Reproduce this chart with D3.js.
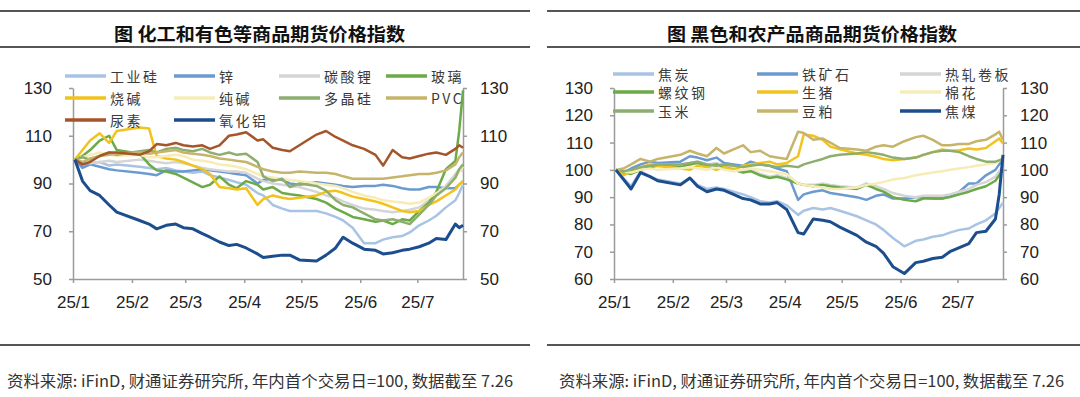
<!DOCTYPE html>
<html><head><meta charset="utf-8"><title>商品期货价格指数</title>
<script src="https://cdn.jsdelivr.net/npm/d3@7/dist/d3.min.js"></script>
<style>html,body{margin:0;padding:0;background:#fff}svg{display:block}</style>
</head><body>
<svg id="chart" width="1080" height="397"></svg>
<script>
// ================= DATA =================
const dates = ["2025-01-02","2025-01-06","2025-01-10","2025-01-15","2025-01-20","2025-01-24",
"2025-02-05","2025-02-10","2025-02-14","2025-02-19","2025-02-24","2025-02-28",
"2025-03-05","2025-03-10","2025-03-14","2025-03-19","2025-03-24","2025-03-28",
"2025-04-02","2025-04-08","2025-04-11","2025-04-16","2025-04-21","2025-04-25","2025-04-30",
"2025-05-09","2025-05-14","2025-05-19","2025-05-23","2025-05-28",
"2025-06-03","2025-06-09","2025-06-13","2025-06-18","2025-06-23","2025-06-27",
"2025-07-02","2025-07-07","2025-07-11","2025-07-16","2025-07-21","2025-07-23","2025-07-25"];

// left chart: chemicals & non-ferrous
const industrialSilicon = [100,97.5,98.5,99,97.5,98, 97,96.5,96,96.5,95.5,95, 94.5,95,93.5,92.5,91.5,90.5, 89.5,86,85,81,79.5,78.5,78.5, 78.5,77.5,76,74.5,71.5, 65,65,66.5,67.5,68,69.5, 72.5,74.5,76.5,80,83,86,89.5];
const zinc = [100,96.5,98,97,96,95.5, 94.5,94,93.5,95.5,95,95, 95.5,96,95.5,95,94.5,94, 93.5,90,91.5,92,91.5,90,89.5, 90.5,90,89.5,89,88.5, 89,89,89.5,89,88,87.5, 87.5,88.5,88.5,88,88,89.5,91];
const lithiumCarbonate = [100,99,98.5,99,99.5,99, 100,99.5,99,98.5,99,98.5, 97.5,96.5,96,95.5,95,95, 94.5,92,91,90,89.5,89,88.5, 86.5,85,84,82.5,81, 79.5,79,78.5,78,78.5,79, 80,83,86,89,94,96,95];
const glass = [100,101.5,104,108,110,104, 102.5,98,95.5,95,94,92.5, 90.5,88.5,89.5,93,89.5,88, 91,89.5,87.5,88.5,86,85.5,85, 83.5,82,79.5,78,76, 75,74,74.5,73,75,74.5, 78.5,82,86.5,96,99.5,112,129];
const causticSoda = [100,104,108,111,107,112, 113.5,113,101.5,100.5,100,99, 97.5,96,94,88.5,88,87.5, 88,81,83.5,85,84,83.5,84, 85,86.5,87,86,84.5, 83.5,82.5,81.5,80,78.5,78, 78.5,81,82.5,85,87.5,89.5,91];
const sodaAsh = [100,101,102,103,102,101.5, 102,101,101,101.5,102,101.5, 100,99.5,99,98,97.5,97, 96,94,93,92.5,92,91.5,91, 90,89.5,89,88,86.5, 85,84,83,82.5,82,81.5, 82,84,86,88,92,95,97];
const polysilicon = [100,101,100,101.5,103,102, 103.5,104,103,104.5,105,104, 103.5,104.5,103,102,103,102, 102.5,99,93,91,92,88.5,90, 89,87,83,81,80, 77.5,75,74.5,75,74,73, 77,81,85,88,92.5,96,98];
const pvc = [100,99,100.5,101.5,102,102.5, 103,102.5,103,103.5,104,103, 102.5,102,101.5,100.5,100,99.5, 99,97,96,95,94.5,94.5,95, 94.5,94.5,94,93,92, 92,92,92,92.5,93,93.5, 94,94,94.5,95.5,98,101,103];
const urea = [100,98,99,101.5,103,103, 102,103.5,106.5,106,107,106, 105.5,106,104.5,106,110,110.5, 111.5,108,108.5,105,104,103.5,106, 110.5,112,109.5,108,106, 104.5,102,97.5,104,101,100.5, 101.5,102.5,103,102,104.5,106,105];
const alumina = [100,91,87,85,81,78, 74.5,73,71,72.5,73,71.5, 71,69,67.5,65.5,64,64.5, 63,60.5,59,59.5,60,60,58, 57.5,60,63,67.5,65, 62.5,62,60.5,61,62,62.5, 63.5,65,67,66.5,73,71.5,72.5];

// right chart: ferrous & agricultural
const coke = [100,97,94,99.5,97.5,96.5, 95,97,94.5,93,93.5,93, 92,91,90,88.5,88,88.5, 87,83.5,85,86,85.5,86,85, 83,81.5,80,78,75, 72,74,74.5,75.5,76,77, 78,78.5,80,81.5,84,86,88];
const ironOre = [100,99,100.5,102,103,102.5, 103,105,104.5,103.5,104.5,102.5, 102,101.5,103,102,101.5,100.5, 99.5,89,91,92,92.5,91.5,91, 90,89,90.5,91,89.5, 89.5,90,90,89.5,89.5,90.5, 92,95,95,98,100,102,103.5];
const hotRolledCoil = [100,99.5,99,100.5,101.5,102, 101.5,102.5,103,102,102.5,101.5, 100.5,99.5,100,98.5,97.5,98, 97,95,94.5,94.5,95,94.5,94, 93.5,95,94,93,91.5, 90.5,90,90.5,90.5,90.5,91, 92,93,94.5,95.5,97.5,99.5,101];
const rebar = [100,99,98.5,100,101,101.5, 101,102,102.5,101.5,102,101, 100,99,99.5,98,97,97.5, 96.5,95,94.5,94,94.5,94,93.5, 93,94.5,93,92,90, 89,88.5,89.5,89.5,89.5,90, 91,92,93,94,96,98,100];
const liveHog = [100,98,99.5,101,102,101.5, 100.5,100,101.5,101,100,101, 100,101.5,102,102.5,103,102, 102.5,105,113,112.5,111,108.5,107.5, 106,105.5,104.8,104,103.5, 104,104.5,105.5,106.5,107.5,107, 107.2,107.8,107.5,108,110.5,111.5,109.7];
const cotton = [100,99.5,99,100,100.5,100, 100.5,101,100.5,100,101,100, 99.5,100,100.5,100,99.5,99, 98.5,95,94.5,94,93.5,93,93, 93.5,94.5,95,95.5,96.5, 97,98,98.5,99,99.5,100, 100.5,101,101.5,102,102.5,103.5,104.5];
const corn = [100,99.5,100,101,101.5,102, 102,102.5,103,102,101.5,102, 101.5,101,101.5,102,101.5,101, 101.5,101,102,103,104,105,105.5, 106,106.5,106,105.5,104.5, 104,104.5,105.5,106.5,107,107, 106.5,105,104,103,103,103.5,104];
const soybeanMeal = [100,100.5,102,104,103,104, 105.5,107,106,105,108,106, 107.5,109,106.5,107,105,104.5, 104,114,113.5,111,111.5,110,108, 107.5,107,108.5,109,108.5, 110.5,112,112.5,111,109,109, 109.5,109.5,110.5,111,113,114,111];
const cokingCoal = [100,96.5,93,99,97.5,96, 94.5,97,94,92,93,92.5, 91,89.5,89,87.5,87.5,88, 85.5,77,76.5,82,81.5,81,79, 76,73.5,72,69.5,64.5, 62,66,66.5,67.5,68,70, 71.5,73,77,77.5,82,91,105.5];

const leftNames  = ["工业硅","锌","碳酸锂","玻璃","烧碱","纯碱","多晶硅","PVC","尿素","氧化铝"];
const rightNames = ["焦炭","铁矿石","热轧卷板","螺纹钢","生猪","棉花","玉米","豆粕","焦煤"];
const yTicksLeft  = [50,70,90,110,130];
const yTicksRight = [60,70,80,90,100,110,120,130];
const monthTicks  = ["2025-01-01","2025-02-01","2025-03-01","2025-04-01","2025-05-01","2025-06-01","2025-07-01"];
const titleLeft  = "图  化工和有色等商品期货价格指数";
const titleRight = "图  黑色和农产品商品期货价格指数";
const sourceNote = "资料来源: iFinD, 财通证券研究所, 年内首个交易日=100, 数据截至 7.26";

// ================= STYLE =================
const COL = {lightBlue:"#A9C3E4", steel:"#6A9ACF", gray:"#D5D5D5", green:"#6CAA47", gold:"#F1C31C",
  pale:"#F7ECB6", mutedGreen:"#8DAE6F", khaki:"#C6B46A", brown:"#A5552A", navy:"#1C4D8D"};
const parseDate = d3.timeParse("%Y-%m-%d");
const X = dates.map(parseDate);

const leftSeries = [industrialSilicon, zinc, lithiumCarbonate, glass, causticSoda, sodaAsh, polysilicon, pvc, urea, alumina];
const leftColors = [COL.lightBlue, COL.steel, COL.gray, COL.green, COL.gold, COL.pale, COL.mutedGreen, COL.khaki, COL.brown, COL.navy];
const rightSeries = [coke, ironOre, hotRolledCoil, rebar, liveHog, cotton, corn, soybeanMeal, cokingCoal];
const rightColors = [COL.lightBlue, COL.steel, COL.gray, COL.green, COL.gold, COL.pale, COL.mutedGreen, COL.khaki, COL.navy];

const svg = d3.select("#chart");
const CJK = "'Noto Sans CJK SC','Noto Sans',sans-serif";
const NUM = "'Liberation Sans',Arial,sans-serif";

function panel(cfg){
  const g = svg.append("g");
  const x = d3.scaleTime().domain([parseDate("2025-01-01"), parseDate("2025-07-25")]).range([cfg.x0, cfg.x1]);
  const y = d3.scaleLinear().domain(cfg.dom).range([cfg.y1, cfg.y0]);

  // header / footer rules
  g.append("line").attr("x1",cfg.px0).attr("x2",cfg.px1).attr("y1",11).attr("y2",11).attr("stroke","#555").attr("stroke-width",1.8);
  g.append("line").attr("x1",cfg.px0).attr("x2",cfg.px1).attr("y1",47).attr("y2",47).attr("stroke","#555").attr("stroke-width",1.8);
  g.append("line").attr("x1",cfg.px0).attr("x2",cfg.px1).attr("y1",345).attr("y2",345).attr("stroke","#555").attr("stroke-width",1.8);
  g.append("text").attr("x",cfg.tcx).attr("y",33).attr("text-anchor","middle").attr("dominant-baseline","central")
    .attr("font-family",CJK).attr("font-weight","bold").attr("font-size",18.5).attr("fill","#111")
    .attr("textLength",cfg.tlen).attr("lengthAdjust","spacingAndGlyphs").text(cfg.title);
  g.append("text").attr("x",cfg.fx).attr("y",380).attr("dominant-baseline","central")
    .attr("font-family",CJK).attr("font-size",15.5).attr("fill","#333")
    .attr("textLength",cfg.flen).attr("lengthAdjust","spacingAndGlyphs").text(sourceNote);

  // axes
  const styleAxis = sel => {
    sel.select(".domain").attr("stroke","#9b9b9b").attr("stroke-width",1.5);
    sel.selectAll(".tick line").attr("stroke","#9b9b9b").attr("stroke-width",1.5);
    sel.selectAll(".tick text").attr("font-family",NUM).attr("font-size",17).attr("fill","#222");
  };
  g.append("g").attr("transform",`translate(${cfg.x0},0)`)
    .call(d3.axisLeft(y).tickValues(cfg.ticks).tickSize(4).tickSizeOuter(0).tickPadding(17)).call(styleAxis);
  g.append("g").attr("transform",`translate(${cfg.x1},0)`)
    .call(d3.axisRight(y).tickValues(cfg.ticks).tickSize(4).tickSizeOuter(0).tickPadding(13)).call(styleAxis);
  g.append("g").attr("transform",`translate(0,${cfg.y1})`)
    .call(d3.axisBottom(x).tickValues(monthTicks.map(parseDate)).tickFormat(d3.timeFormat("%y/%-m"))
      .tickSize(4).tickSizeOuter(0).tickPadding(13)).call(styleAxis);

  // lines
  const line = d3.line().x((d,i)=>x(X[i])).y(d=>y(d));
  cfg.series.forEach((s,i)=>{
    g.append("path").datum(s).attr("d",line).attr("fill","none")
      .attr("stroke",cfg.colors[i]).attr("stroke-width", cfg.colors[i]===COL.navy?3:2.5)
      .attr("stroke-linejoin","round");
  });

  // legend
  cfg.names.forEach((n,i)=>{
    const cx = cfg.lcols[i % cfg.ncols], cy = cfg.lrows[Math.floor(i / cfg.ncols)];
    g.append("line").attr("x1",cx).attr("x2",cx+41).attr("y1",cy).attr("y2",cy)
      .attr("stroke",cfg.colors[i]).attr("stroke-width",3.5);
    g.append("text").attr("x",cx+45).attr("y",cy).attr("dominant-baseline","central")
      .attr("font-family",CJK).attr("font-size",14).attr("letter-spacing",2.5).attr("fill","#3a3a3a").text(n);
  });
}

panel({x0:73,x1:463,y0:88,y1:279,dom:[50,130],ticks:yTicksLeft,series:leftSeries,colors:leftColors,names:leftNames,
  lcols:[65,174,279,386],lrows:[76,98,120],ncols:4,px0:0,px1:530,tcx:259.5,tlen:291,title:titleLeft,fx:7,flen:506});
panel({x0:614,x1:1003,y0:88,y1:279,dom:[60,130],ticks:yTicksRight,series:rightSeries,colors:rightColors,names:rightNames,
  lcols:[613,757,900],lrows:[74,92,111],ncols:3,px0:547,px1:1080,tcx:812,tlen:290,title:titleRight,fx:559,flen:505});
</script>
</body></html>
